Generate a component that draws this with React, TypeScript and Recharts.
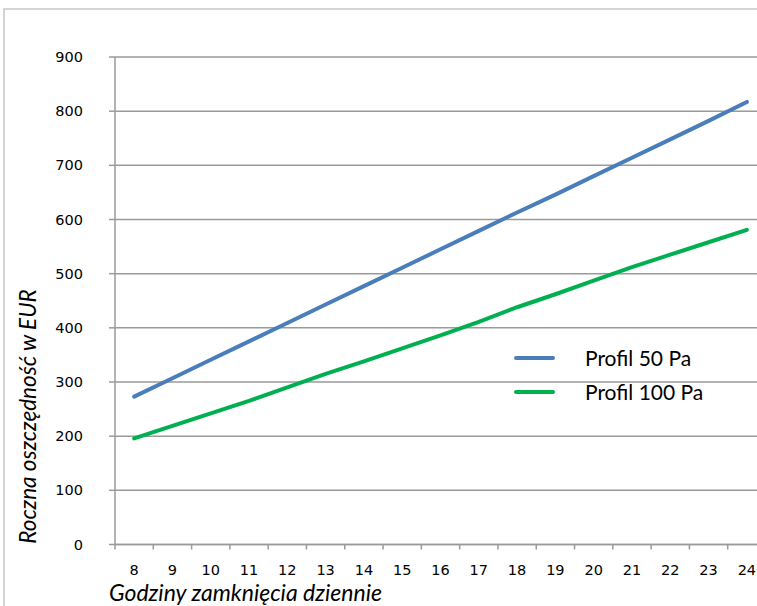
import React from 'react';
import { LineChart, Line, XAxis, YAxis, CartesianGrid, Legend } from 'recharts';

const hours = [8, 9, 10, 11, 12, 13, 14, 15, 16, 17, 18, 19, 20, 21, 22, 23, 24];
const profil50 = [273, 307, 341, 375, 409, 443, 477, 511, 545, 579, 613, 646, 680, 714, 748, 782, 817];
const profil100 = [196, 219, 242, 265, 290, 315, 338, 362, 386, 411, 438, 462, 487, 512, 535, 558, 581];
const yTicks = [0, 100, 200, 300, 400, 500, 600, 700, 800, 900];
const seriesNames = ['Profil 50 Pa', 'Profil 100 Pa'];
const xTitle = 'Godziny zamknięcia dziennie';
const yTitle = 'Roczna oszczędność w EUR';

const data = hours.map((h, i) => ({ h, p50: profil50[i], p100: profil100[i] }));
const xTicks = hours.flatMap((h) => [h - 0.5, h]).concat([hours[hours.length - 1] + 0.5]);

const GRID = '#9a9a9a';
const TICK_FONT = '"DejaVu Sans", sans-serif';
const TITLE_FONT = 'Lato, "Open Sans", sans-serif';

const XTick = (props: any) => {
  const { x, y, payload } = props;
  const v = payload.value;
  if (Number.isInteger(v)) {
    return (
      <text x={x} y={y} dy="0.71em" textAnchor="middle" fontFamily={TICK_FONT} fontSize={14.5} fill="#000">
        {v}
      </text>
    );
  }
  return <line x1={x} x2={x} y1={y - 20} y2={y - 15} stroke={GRID} strokeWidth={1.5} />;
};

const LegendContent = (props: any) => {
  const items = [...(props.payload || [])].sort(
    (a: any, b: any) => seriesNames.indexOf(a.value) - seriesNames.indexOf(b.value)
  );
  return (
    <div>
      {items.map((e: any) => (
        <div key={e.value} style={{ display: 'flex', alignItems: 'center', height: 34 }}>
          <svg width={41} height={6} style={{ display: 'block' }}>
            <line x1={2} x2={39} y1={3} y2={3} stroke={e.color} strokeWidth={4} strokeLinecap="round" />
          </svg>
          <span
            style={{
              marginLeft: 30,
              fontFamily: TITLE_FONT,
              fontSize: 21,
              color: '#000',
              lineHeight: '34px',
              whiteSpace: 'nowrap',
            }}
          >
            {e.value}
          </span>
        </div>
      ))}
    </div>
  );
};

const XTitle = () => (
  <text x={109} y={601} fontFamily={TITLE_FONT} fontStyle="italic" fontSize={23} fill="#000">
    {xTitle}
  </text>
);

const YTitle = () => (
  <text
    x={35.5}
    y={416.5}
    transform="rotate(-90, 35.5, 416.5)"
    textAnchor="middle"
    fontFamily={TITLE_FONT}
    fontStyle="italic"
    fontSize={22.5}
    fill="#000"
  >
    {yTitle}
  </text>
);

export default function App() {
  return (
    <div style={{ position: 'fixed', left: 0, top: 0, width: 757, height: 606, overflow: 'hidden', background: '#fff' }}>
      <div
        style={{
          position: 'absolute',
          left: 3,
          top: 8,
          width: 1000,
          height: 1000,
          border: '2px solid #d4d4d4',
          boxSizing: 'border-box',
        }}
      />
      <div style={{ position: 'absolute', left: 0, top: 0 }}>
        <LineChart width={800} height={620} data={data} margin={{ top: 57, left: 55, right: 34, bottom: 45.5 }}>
          <CartesianGrid vertical={false} stroke={GRID} strokeWidth={1.5} />
          <XAxis
            dataKey="h"
            type="number"
            domain={[7.5, 24.5]}
            ticks={xTicks}
            interval={0}
            tick={<XTick />}
            tickLine={false}
            tickSize={5}
            tickMargin={15}
            axisLine={{ stroke: GRID, strokeWidth: 1.5 }}
            height={30}
            label={<XTitle />}
          />
          <YAxis
            type="number"
            domain={[0, 900]}
            ticks={yTicks}
            width={60}
            tickSize={6}
            tickMargin={26}
            tick={{ fontFamily: TICK_FONT, fontSize: 14.5, fill: '#000' }}
            tickLine={{ stroke: GRID, strokeWidth: 1.5 }}
            axisLine={{ stroke: GRID, strokeWidth: 1.5 }}
            label={<YTitle />}
          />
          <Legend
            layout="vertical"
            align="center"
            verticalAlign="middle"
            content={<LegendContent />}
            wrapperStyle={{ left: 514, top: 341, width: 'auto', height: 'auto' }}
          />
          <Line
            dataKey="p50"
            name={seriesNames[0]}
            stroke="#4A7EBB"
            strokeWidth={4}
            strokeLinecap="round"
            dot={false}
            activeDot={false}
            isAnimationActive={false}
          />
          <Line
            dataKey="p100"
            name={seriesNames[1]}
            stroke="#00B050"
            strokeWidth={4}
            strokeLinecap="round"
            dot={false}
            activeDot={false}
            isAnimationActive={false}
          />
        </LineChart>
      </div>
    </div>
  );
}
